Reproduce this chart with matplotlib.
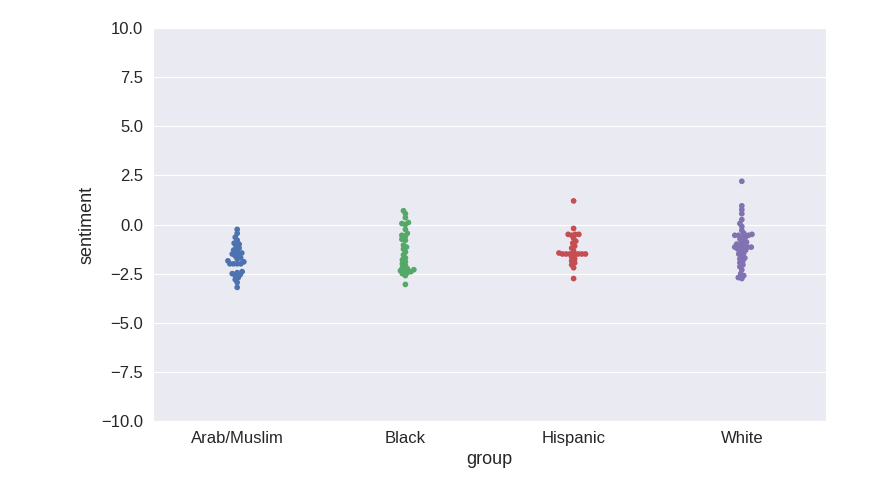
import numpy as np
import pandas as pd
import matplotlib
matplotlib.use("Agg")
import matplotlib.pyplot as plt
import seaborn as sns

groups = ["Arab/Muslim", "Black", "Hispanic", "White"]

arab = [-0.25, -0.45, -0.65, -0.8, -0.95, -1.0, -1.1, -1.2, -1.3, -1.35, -1.45,
        -1.5, -1.55, -1.6, -1.7, -1.75, -1.85, -1.9, -2.0, -2.0, -2.0, -2.0,
        -2.4, -2.45, -2.5, -2.55, -2.6, -2.7, -2.8, -2.95, -3.2]
black = [0.7, 0.55, 0.35, 0.1, 0.05, 0.0, -0.25, -0.45, -0.55, -0.6, -0.75,
         -0.8, -1.05, -1.15, -1.25, -1.4, -1.55, -1.7, -1.8, -1.9, -2.0, -2.1,
         -2.2, -2.25, -2.3, -2.35, -2.35, -2.4, -2.45, -2.5, -2.6, -3.05]
hispanic = [1.2, -0.2, -0.5, -0.5, -0.5, -0.55, -0.7, -0.85, -0.95, -1.1, -1.2,
            -1.35, -1.45, -1.5, -1.5, -1.5, -1.5, -1.5, -1.5, -1.55, -1.65,
            -1.75, -1.85, -1.95, -2.05, -2.2, -2.75]
white = [2.2, 0.95, 0.75, 0.55, 0.25, 0.05, -0.1, -0.3, -0.45, -0.5, -0.55,
         -0.55, -0.55, -0.6, -0.65, -0.75, -0.8, -0.9, -0.95, -1.0, -1.05, -1.1,
         -1.15, -1.15, -1.15, -1.2, -1.25, -1.3, -1.35, -1.45, -1.5, -1.6, -1.7,
         -1.75, -1.85, -1.95, -2.05, -2.15, -2.3, -2.5, -2.6, -2.7, -2.75]

colors = ["#4C72B0", "#55A868", "#C44E52", "#8172B2"]

values = [arab, black, hispanic, white]
df = pd.DataFrame({
    "group": np.repeat(groups, [len(v) for v in values]),
    "sentiment": np.concatenate(values),
})

sns.set_style("darkgrid")
plt.rcParams["font.family"] = ["Liberation Sans", "DejaVu Sans"]

fig = plt.figure(figsize=(8.9, 4.87), dpi=100)
ax = fig.add_axes([0.172, 0.1355, 0.756, 0.807])
# swarm laid out with small markers, then drawn larger so points overlap
sns.swarmplot(data=df, x="group", y="sentiment", hue="group", order=groups,
              palette=colors, size=2.5, linewidth=0, legend=False, ax=ax)
ax.set_ylim(-10, 10)
ticks = np.arange(-10, 10.1, 2.5)
ax.set_yticks(ticks)
ax.set_yticklabels([f"{t:.1f}".replace("-", "\u2212") for t in ticks])
ax.xaxis.grid(False)
ax.tick_params(labelsize=12, colors="#262626")
ax.set_xlabel("group", fontsize=13, color="#262626")
ax.set_ylabel("sentiment", fontsize=13, color="#262626")

fig.canvas.draw()
for coll in ax.collections:
    if "draw" in coll.__dict__:
        del coll.draw
    coll.set_sizes([17])

fig.savefig("out.png", dpi=100)
